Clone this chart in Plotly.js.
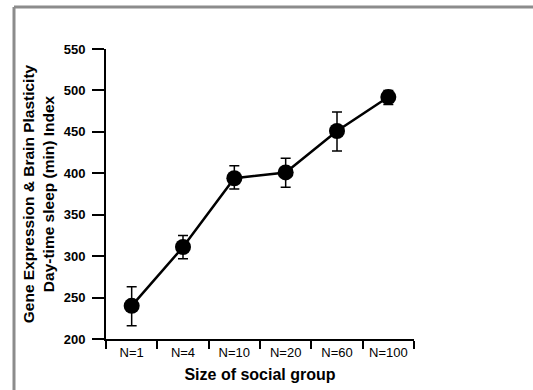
<!DOCTYPE html>
<html>
<head>
<meta charset="utf-8">
<script src="https://cdn.plot.ly/plotly-3.0.1.min.js"></script>
<style>
html,body{margin:0;padding:0;background:#fff;}
#chart{width:533px;height:390px;}
</style>
</head>
<body>
<div id="chart"></div>
<script>
const groups = ["N=1", "N=4", "N=10", "N=20", "N=60", "N=100"];
const sleepIndex = [240, 311, 394, 401, 451, 492];
const errUpper = [23, 14, 15, 17, 23, 8];
const errLower = [24, 14, 13, 18, 24, 9];

const trace = {
  type: "scatter",
  mode: "lines+markers",
  x: groups,
  y: sleepIndex,
  line: {color: "#000", width: 2.5},
  marker: {color: "#000", size: 16},
  error_y: {
    type: "data",
    symmetric: false,
    array: errUpper,
    arrayminus: errLower,
    color: "#000",
    thickness: 1.5,
    width: 5
  },
  cliponaxis: false,
  hoverinfo: "x+y"
};

const layout = {
  width: 533,
  height: 390,
  margin: {l: 106, r: 119, t: 49, b: 51},
  paper_bgcolor: "#fff",
  plot_bgcolor: "#fff",
  showlegend: false,
  font: {family: "Arial, 'Liberation Sans', sans-serif", color: "#000"},
  xaxis: {
    type: "category",
    range: [-0.5, 5.5],
    showgrid: false,
    zeroline: false,
    showline: true,
    linecolor: "#000",
    linewidth: 2,
    ticks: "outside",
    tickson: "boundaries",
    ticklen: 8,
    tickwidth: 2,
    tickcolor: "#000",
    tickfont: {size: 13, color: "#000"},
    title: {text: "Size of social group", font: {size: 16, weight: "bold", color: "#000"}, standoff: 10},
    fixedrange: true
  },
  yaxis: {
    range: [200, 550],
    tickvals: [200, 250, 300, 350, 400, 450, 500, 550],
    showgrid: false,
    zeroline: false,
    showline: true,
    linecolor: "#000",
    linewidth: 2,
    ticks: "outside",
    ticklen: 12,
    tickwidth: 2,
    tickcolor: "#000",
    ticklabelstandoff: 4,
    tickfont: {size: 13, weight: "bold", color: "#000"},
    title: {text: "Gene Expression &amp; Brain Plasticity<br>Day-time sleep (min) Index", font: {size: 15.5, weight: "bold", color: "#000"}, standoff: 5},
    fixedrange: true
  },
  shapes: [
    {type: "line", xref: "paper", yref: "paper", x0: (14-106)/308, x1: (533-106)/308, y0: (339-7)/290, y1: (339-7)/290, line: {color: "#8c8c8c", width: 3}},
    {type: "line", xref: "paper", yref: "paper", x0: (14-106)/308, x1: (14-106)/308, y0: (339-7)/290, y1: (339-392)/290, line: {color: "#8c8c8c", width: 3}}
  ]
};

Plotly.newPlot("chart", [trace], layout, {displayModeBar: false, staticPlot: true});
</script>
</body>
</html>
